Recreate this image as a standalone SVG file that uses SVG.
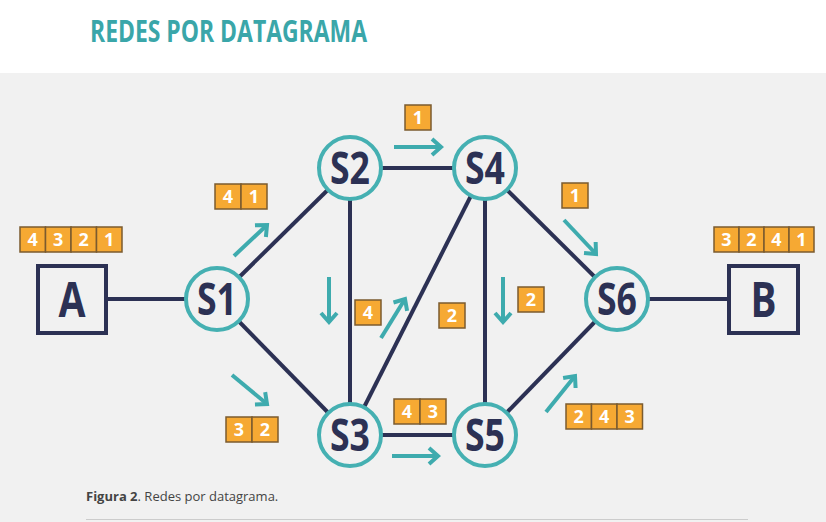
<svg xmlns="http://www.w3.org/2000/svg" width="826" height="522" viewBox="0 0 826 522">
<defs>
<marker id="ah" markerUnits="userSpaceOnUse" markerWidth="24" markerHeight="24" refX="0" refY="0" viewBox="-14 -12 18 24" orient="auto" overflow="visible">
<path d="M-9,-8 L0,0 L-9,8" fill="none" stroke="#3eabae" stroke-width="4"/>
</marker>
<style>
.link{stroke:#2c3154;stroke-width:4;fill:none}
.arr{stroke:#3eabae;stroke-width:4;fill:none;marker-end:url(#ah)}
.node circle{fill:#f1f1f1;stroke:#45b0b2;stroke-width:4}
.box{fill:#f1f1f1;stroke:#2c3154;stroke-width:4}
.lbl{font-family:"Open Sans","DejaVu Sans",sans-serif;font-weight:bold;fill:#2c3154;text-anchor:middle}
.pk rect{fill:#f6a933;stroke:#7b5b2f;stroke-width:1.5}
.pk text{font-family:"Open Sans","DejaVu Sans",sans-serif;font-weight:bold;font-size:18px;fill:#ffffff;text-anchor:middle}
</style>
</defs>
<rect x="0" y="0" width="826" height="522" fill="#ffffff"/>
<rect x="0" y="73" width="826" height="449" fill="#f1f1f1"/>
<text x="90" y="42" font-family="'Open Sans','DejaVu Sans',sans-serif" font-weight="bold" font-size="30" fill="#3aa6a9" textLength="277" lengthAdjust="spacingAndGlyphs">REDES POR DATAGRAMA</text>

<g id="connectors">
<line class="link" x1="106" y1="299" x2="217" y2="299"/>
<line class="link" x1="217" y1="299" x2="350" y2="168"/>
<line class="link" x1="217" y1="299" x2="350" y2="435"/>
<line class="link" x1="350" y1="168" x2="485" y2="168"/>
<line class="link" x1="350" y1="168" x2="350" y2="435"/>
<line class="link" x1="350" y1="435" x2="485" y2="168"/>
<line class="link" x1="485" y1="168" x2="485" y2="435"/>
<line class="link" x1="350" y1="435" x2="485" y2="435"/>
<line class="link" x1="485" y1="168" x2="617" y2="299"/>
<line class="link" x1="485" y1="435" x2="617" y2="299"/>
<line class="link" x1="617" y1="299" x2="729" y2="299"/>
</g>

<g id="arrows">
<line class="arr" x1="234" y1="256" x2="267" y2="225"/>
<line class="arr" x1="232" y1="375" x2="267" y2="404"/>
<line class="arr" x1="394" y1="147" x2="441" y2="147"/>
<line class="arr" x1="329" y1="277" x2="329" y2="322"/>
<line class="arr" x1="381" y1="338" x2="405" y2="299"/>
<line class="arr" x1="503" y1="277" x2="503" y2="322"/>
<line class="arr" x1="564" y1="220" x2="596" y2="254"/>
<line class="arr" x1="392" y1="456" x2="438" y2="456"/>
<line class="arr" x1="546" y1="412" x2="575" y2="376"/>
</g>

<g id="A"><rect class="box" x="38" y="266" width="68" height="67"/><text class="lbl" x="72" y="317" font-size="48" textLength="27" lengthAdjust="spacingAndGlyphs">A</text></g>
<g id="B"><rect class="box" x="729" y="266" width="69" height="67"/><text class="lbl" x="763.5" y="317" font-size="48" textLength="26" lengthAdjust="spacingAndGlyphs">B</text></g>
<g id="S1" class="node"><circle cx="217" cy="299" r="31"/><text class="lbl" x="217" y="315" font-size="44" textLength="40" lengthAdjust="spacingAndGlyphs">S1</text></g>
<g id="S2" class="node"><circle cx="350" cy="168" r="31"/><text class="lbl" x="350" y="184" font-size="44" textLength="40" lengthAdjust="spacingAndGlyphs">S2</text></g>
<g id="S4" class="node"><circle cx="485" cy="168" r="31"/><text class="lbl" x="485" y="184" font-size="44" textLength="40" lengthAdjust="spacingAndGlyphs">S4</text></g>
<g id="S3" class="node"><circle cx="350" cy="435" r="31"/><text class="lbl" x="350" y="451" font-size="44" textLength="40" lengthAdjust="spacingAndGlyphs">S3</text></g>
<g id="S5" class="node"><circle cx="485" cy="435" r="31"/><text class="lbl" x="485" y="451" font-size="44" textLength="40" lengthAdjust="spacingAndGlyphs">S5</text></g>
<g id="S6" class="node"><circle cx="617" cy="299" r="31"/><text class="lbl" x="617" y="315" font-size="44" textLength="40" lengthAdjust="spacingAndGlyphs">S6</text></g>

<g id="pkA" class="pk">
<rect x="20" y="227" width="25.5" height="25"/><rect x="45.5" y="227" width="25.5" height="25"/><rect x="71" y="227" width="25.5" height="25"/><rect x="96.5" y="227" width="25.5" height="25"/>
<text x="32.75" y="246">4</text><text x="58.25" y="246">3</text><text x="83.75" y="246">2</text><text x="109.25" y="246">1</text>
</g>
<g id="pkB" class="pk">
<rect x="714" y="227" width="25" height="25"/><rect x="739" y="227" width="25" height="25"/><rect x="764" y="227" width="25" height="25"/><rect x="789" y="227" width="25" height="25"/>
<text x="726.5" y="246">3</text><text x="751.5" y="246">2</text><text x="776.5" y="246">4</text><text x="801.5" y="246">1</text>
</g>
<g id="pkS1S2" class="pk">
<rect x="215" y="184" width="26" height="25"/><rect x="241" y="184" width="26" height="25"/>
<text x="228" y="203">4</text><text x="254" y="203">1</text>
</g>
<g id="pkS2S4" class="pk"><rect x="405" y="105" width="26" height="25"/><text x="418" y="124">1</text></g>
<g id="pkS2S3" class="pk"><rect x="355" y="300" width="26" height="25"/><text x="368" y="319">4</text></g>
<g id="pkS3S4" class="pk"><rect x="439" y="303" width="26" height="25"/><text x="452" y="322">2</text></g>
<g id="pkS4S5" class="pk"><rect x="518" y="287" width="26" height="25"/><text x="531" y="306">2</text></g>
<g id="pkS4S6" class="pk"><rect x="562" y="183" width="26" height="25"/><text x="575" y="202">1</text></g>
<g id="pkS1S3" class="pk">
<rect x="226" y="417" width="26" height="25"/><rect x="252" y="417" width="26" height="25"/>
<text x="239" y="436">3</text><text x="265" y="436">2</text>
</g>
<g id="pkS3S5" class="pk">
<rect x="394" y="399" width="26" height="25"/><rect x="420" y="399" width="26" height="25"/>
<text x="407" y="418">4</text><text x="433" y="418">3</text>
</g>
<g id="pkS5S6" class="pk">
<rect x="566" y="404" width="25.5" height="25"/><rect x="591.5" y="404" width="25.5" height="25"/><rect x="617" y="404" width="25.5" height="25"/>
<text x="578.75" y="423">2</text><text x="604.25" y="423">4</text><text x="629.75" y="423">3</text>
</g>

<text x="86" y="501" font-family="'Open Sans','DejaVu Sans',sans-serif" font-size="13" fill="#444444"><tspan font-weight="bold">Figura 2</tspan>. Redes por datagrama.</text>
<line x1="86" y1="519.5" x2="748" y2="519.5" stroke="#cccccc" stroke-width="1"/>
</svg>
